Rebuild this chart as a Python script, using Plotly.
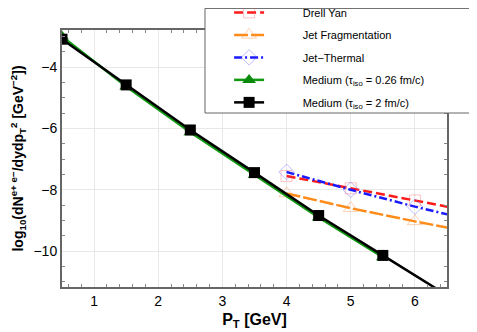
import plotly.graph_objects as go

# pT points and log10 yields
pt_medium = [0.5, 1.5, 2.5, 3.5, 4.5, 5.5, 6.5]
med_026 = [-3.0, -4.63, -6.12, -7.52, -8.9, -10.2]
med_2 = [-3.09, -4.58, -6.05, -7.44, -8.84, -10.14, -11.44]

pt_hard = [4, 5, 6, 7]
drell_yan = [-7.55, -7.95, -8.35, -8.75]
jet_frag = [-8.12, -8.6, -9.03, -9.43]
jet_thermal = [-7.42, -8.0, -8.55, -9.05]

pad = '\u00a0' * 11  # push legend text right like the original

fig = go.Figure()

fig.add_trace(go.Scatter(
    x=pt_hard, y=drell_yan, mode='lines+markers', name=pad + 'Drell Yan',
    line=dict(color='#ff1a1a', width=2.5, dash='9px,4px'),
    marker=dict(symbol='square-open', size=11, color='rgba(255,90,90,0.35)', line=dict(width=1)),
    legendgroup='a'))
fig.add_trace(go.Scatter(
    x=pt_hard, y=jet_frag, mode='lines+markers', name=pad + 'Jet Fragmentation',
    line=dict(color='#ff8c1a', width=2.5, dash='14px,3px'),
    marker=dict(symbol='triangle-up-open', size=13, color='rgba(255,140,60,0.4)', line=dict(width=1)),
    legendgroup='b'))
fig.add_trace(go.Scatter(
    x=pt_hard, y=jet_thermal, mode='lines+markers', name=pad + 'Jet\u2212Thermal',
    line=dict(color='#1a1aff', width=2.5, dash='8px,3px,2px,3px'),
    marker=dict(symbol='diamond-open', size=12, color='rgba(90,90,255,0.4)', line=dict(width=1)),
    legendgroup='c'))
fig.add_trace(go.Scatter(
    x=pt_medium[:len(med_026)], y=med_026, mode='lines+markers',
    name=pad + 'Medium (\u03c4<sub>iso</sub> = 0.26 fm/c)',
    line=dict(color='#129912', width=2.5),
    marker=dict(symbol='triangle-up', size=12, color='#0a8a0a'),
    legendgroup='d'))
fig.add_trace(go.Scatter(
    x=pt_medium, y=med_2, mode='lines+markers',
    name=pad + 'Medium (\u03c4<sub>iso</sub> = 2 fm/c)',
    line=dict(color='black', width=2.5),
    marker=dict(symbol='square', size=11, color='black'),
    legendgroup='e'))

axis_common = dict(
    showgrid=True, gridcolor='#e8e8e8', gridwidth=1,
    showline=True, linecolor='#666666', linewidth=2, mirror='allticks',
    ticks='inside', ticklen=0, tickcolor='#888888',
    tickfont=dict(size=14, color='black'),
    zeroline=False, automargin=False,
)

fig.update_xaxes(
    range=[0.5, 6.5], dtick=1, tick0=0,
    minor=dict(dtick=0.2, ticks='inside', ticklen=3, tickcolor='#888888', showgrid=False),
    title=dict(text='P<sub>T</sub> [GeV]', font=dict(size=16, weight='bold', color='black'), standoff=6),
    **axis_common)
fig.update_yaxes(
    range=[-11.17, -2.79], dtick=2, tick0=0,
    minor=dict(dtick=0.5, ticks='inside', ticklen=3, tickcolor='#888888', showgrid=False),
    title=dict(text='log<sub>10</sub>(dN<sup>e+ e\u2212</sup>/dydp<sub>T</sub><sup>2</sup> [GeV<sup>\u22122</sup>])',
               font=dict(size=14, weight='bold', color='black'), standoff=15),
    **axis_common)

# legend frame box (top right, overlapping the plot area)
fig.add_shape(type='rect', xref='paper', yref='paper',
              x0=0.3714, x1=1.0753, y0=0.677, y1=1.084,
              fillcolor='white', line=dict(color='#666666', width=1), layer='above')

# page body adds an 8px offset, so the figure is 8px smaller with matching margins
fig.update_layout(
    width=469, height=324,
    margin=dict(l=54, r=30, t=22, b=45, autoexpand=False),
    plot_bgcolor='white', paper_bgcolor='white',
    font=dict(family='Liberation Sans, Arial, sans-serif', color='black'),
    legend=dict(
        x=0.434, y=1.125, xanchor='left', yanchor='top',
        bgcolor='rgba(0,0,0,0)', borderwidth=0,
        font=dict(size=11), tracegroupgap=3.5,
    ),
)

fig.write_html("out.html")
